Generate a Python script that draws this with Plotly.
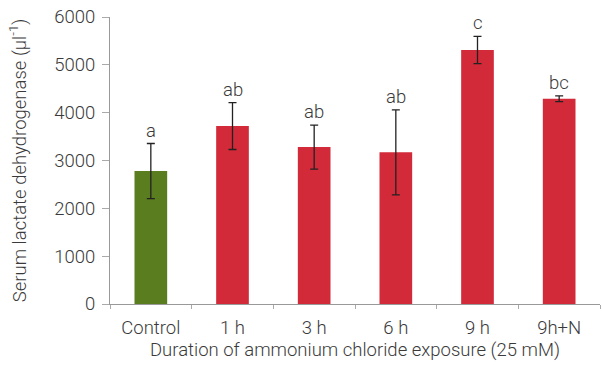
import plotly.graph_objects as go

categories = ["Control", "1 h", "3 h", "6 h", "9 h", "9h+N"]
values = [2780, 3720, 3280, 3170, 5310, 4290]
errors = [575, 490, 460, 890, 285, 60]
letters = ["a", "ab", "ab", "ab", "c", "bc"]
colors = ["#5a7d1f", "#d22a38", "#d22a38", "#d22a38", "#d22a38", "#d22a38"]

font_family = "Roboto, sans-serif"
txt_color = "#3a3a3a"
fs = 18.5

fig = go.Figure()
fig.add_trace(go.Bar(
    x=categories, y=values, marker=dict(color=colors, line=dict(width=0)),
    width=0.4,
    error_y=dict(type="data", array=errors, color="#222222", thickness=1.3, width=4),
))

for c, v, e, l in zip(categories, values, errors, letters):
    fig.add_annotation(x=c, y=v + e, text=l, showarrow=False, yanchor="bottom",
                       yshift=0, font=dict(size=fs, color=txt_color, family=font_family, weight=300))

fig.update_layout(
    width=602, height=365,
    margin=dict(l=110, r=2, t=17, b=61),
    plot_bgcolor="white", paper_bgcolor="white",
    showlegend=False,
    font=dict(family=font_family, size=fs, color=txt_color, weight=300),
    xaxis=dict(
        title=dict(text="Duration of ammonium chloride exposure (25 mM)", standoff=4,
                   font=dict(size=fs, weight=300)),
        showline=True, linecolor="#999999", linewidth=1,
        ticks="outside", tickcolor="#aaaaaa", ticklen=4, tickson="boundaries",
        tickfont=dict(size=fs, weight=300), ticklabelstandoff=7,
    ),
    yaxis=dict(
        title=dict(text="Serum lactate dehydrogenase (μl<sup>-1</sup>)", standoff=22,
                   font=dict(size=fs, weight=300)),
        range=[0, 6000], tickvals=[0, 1000, 2000, 3000, 4000, 5000, 6000],
        showline=True, linecolor="#999999", linewidth=1,
        ticks="outside", tickcolor="#aaaaaa", ticklen=7,
        showgrid=False, zeroline=False, tickfont=dict(size=fs, weight=300),
        ticklabelstandoff=3,
    ),
)

fig.write_html("out.html")
